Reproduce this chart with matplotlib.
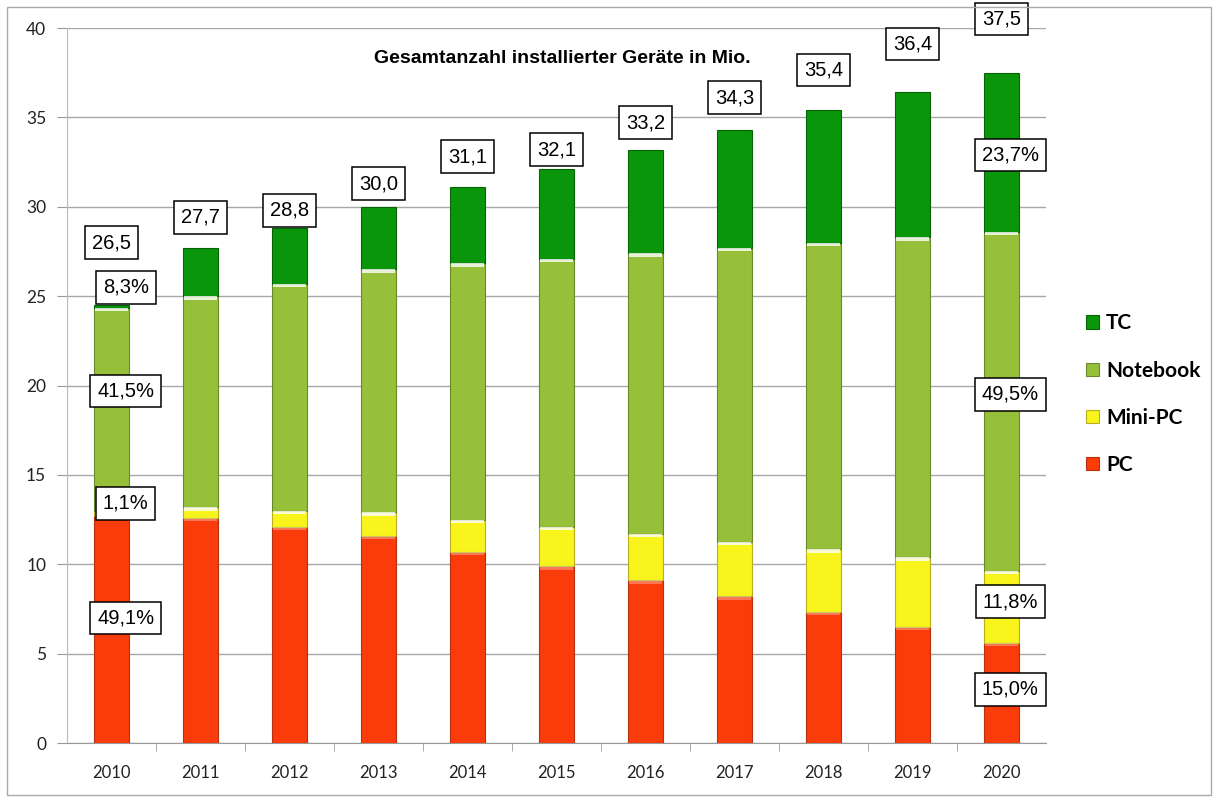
"""Stacked bars: installed devices per year, 2010-2020
"""
import numpy as np
import matplotlib
matplotlib.use('Agg')
import matplotlib.pyplot as plt
from matplotlib.patches import Rectangle

years = ['2010', '2011', '2012', '2013', '2014', '2015',
         '2016', '2017', '2018', '2019', '2020']

# segment heights in Mio.
pc = [12.7, 12.6, 12.1, 11.6, 10.7, 9.9, 9.1, 8.2, 7.35, 6.5, 5.6]
mini_pc = [0.3, 0.6, 0.9, 1.3, 1.8, 2.2, 2.6, 3.05, 3.5, 3.9, 4.05]
notebook = [11.35, 11.8, 12.7, 13.6, 14.35, 15.0, 15.7, 16.45, 17.15, 17.9, 18.95]
tc = [0.15, 2.7, 3.1, 3.5, 4.25, 5.0, 5.8, 6.6, 7.4, 8.1, 8.9]

totals = ['26,5', '27,7', '28,8', '30,0', '31,1', '32,1',
          '33,2', '34,3', '35,4', '36,4', '37,5']

# share labels for first and last year
share_2010 = ['49,1%', '1,1%', '41,5%', '8,3%']
share_2020 = ['15,0%', '11,8%', '49,5%', '23,7%']

series = [('PC', pc, '#fa3c0a'),
          ('Mini-PC', mini_pc, '#f8f41c'),
          ('Notebook', notebook, '#96c03a'),
          ('TC', tc, '#0a960a')]

edge = {'PC': '#b83010', 'Mini-PC': '#b8b020', 'Notebook': '#6a8a2a', 'TC': '#066406'}
rim = {'PC': 0.3, 'Mini-PC': 0.8, 'Notebook': 0.8, 'TC': 0.0}

plt.rcParams['font.family'] = ['Liberation Sans', 'DejaVu Sans']

fig = plt.figure(figsize=(12.18, 8.01), dpi=100)
ax = fig.add_axes([67 / 1218, 1 - 743 / 801, 979 / 1218, 715 / 801])

x = np.arange(len(years))
bottom = np.zeros(len(years))
handles = {}
for name, vals, col in series:
    vals = np.array(vals)
    b = ax.bar(x, vals, 0.40, bottom=bottom, color=col, edgecolor=edge[name],
               linewidth=0.8, zorder=3, label=name)
    # thin light rim at segment top (bevel look)
    if rim[name] > 0:
        h = np.minimum(vals, 0.2)
        ax.bar(x, h, 0.37, bottom=bottom + vals - h, color='white',
               alpha=rim[name], linewidth=0, zorder=4)
    handles[name] = b
    bottom = bottom + vals

tops = bottom
box = dict(boxstyle='square,pad=0.34', facecolor='white', edgecolor='black', linewidth=1.1)

# total labels above the bars
label_off = [3.5, 1.7, 1.0, 1.3, 1.7, 1.1, 1.5, 1.8, 2.25, 2.7, 3.0]
for i, t in enumerate(totals):
    ax.text(x[i], tops[i] + label_off[i], t, ha='center', va='center', fontsize=14.5,
            bbox=box, zorder=6, clip_on=False)

# share labels 2010 and 2020
y2010 = [7.0, 13.4, 19.7, 25.5]
y2020 = [3.0, 7.9, 19.5, 32.9]
for s, yy in zip(share_2010, y2010):
    ax.text(x[0] + 0.16, yy, s, ha='center', va='center', fontsize=14.5, bbox=box, zorder=6)
for s, yy in zip(share_2020, y2020):
    ax.text(x[-1] + 0.1, yy, s, ha='center', va='center', fontsize=14.5, bbox=box, zorder=6)

ax.set_xlim(-0.5, len(years) - 0.5)
ax.set_ylim(0, 40)
ax.set_yticks(np.arange(0, 41, 5))
ax.set_xticks(x)
ax.set_xticklabels(years)
ax.set_xticks(np.arange(0.5, len(years) - 0.5, 1), minor=True)
ax.tick_params(axis='x', which='major', length=0, pad=16, labelsize=12, colors='#222222')
ax.tick_params(axis='x', which='minor', length=6, color='#999999', direction='out')
ax.tick_params(axis='y', length=7, color='#999999', pad=8, labelsize=12.5, colors='#222222')
for lab in ax.get_xticklabels() + ax.get_yticklabels():
    lab.set_family(['Lato', 'DejaVu Sans'])
ax.grid(axis='y', color='#a8a8a8', linewidth=1.0, zorder=0)
for sp in ['top', 'right']:
    ax.spines[sp].set_visible(False)
ax.spines['left'].set_color('#bbbbbb')
ax.spines['bottom'].set_color('#999999')

ax.text(495 / 979, 1 - 30 / 715, 'Gesamtanzahl installierter Geräte in Mio.',
        transform=ax.transAxes, ha='center', va='center', fontsize=14, fontweight='bold')

order = ['TC', 'Notebook', 'Mini-PC', 'PC']
leg = fig.legend([handles[n] for n in order], order, loc='upper left',
                 bbox_to_anchor=(1076 / 1218, 1 - 303 / 801), frameon=False,
                 handlelength=0.6, handleheight=0.6, handletextpad=0.35,
                 labelspacing=1.3, borderpad=0,
                 prop={'family': ['Lato', 'DejaVu Sans'], 'weight': 'bold', 'size': 15})

fig.patches.append(Rectangle((7 / 1218, 6 / 801), 1 - 14 / 1218, 1 - 13 / 801,
                             transform=fig.transFigure, fill=False,
                             edgecolor='#aaaaaa', linewidth=1.0))

plt.savefig('out.png', dpi=100)
